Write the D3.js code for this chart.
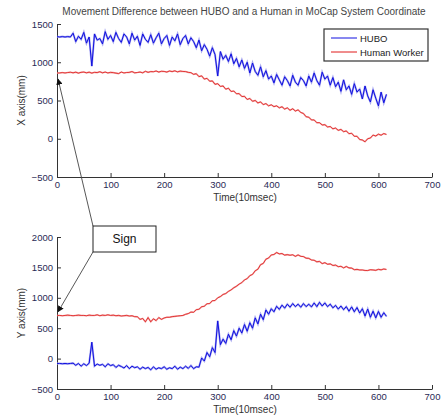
<!DOCTYPE html>
<html>
<head>
<meta charset="utf-8">
<script src="https://cdn.jsdelivr.net/npm/d3@7"></script>
<style>
  body { margin: 0; background: #fff; }
  text { font-family: "Liberation Sans", Arial, sans-serif; }
</style>
</head>
<body>
<div id="chart"></div>
<script>
// sample times (10msec units)
const time = [0,5,10,15,20,25,30,35,40,45,50,55,60,65,70,75,80,85,90,95,
  100,105,110,115,120,125,130,135,140,145,150,155,160,165,170,175,180,185,190,195,
  200,205,210,215,220,225,230,235,240,245,250,255,260,265,270,275,280,285,290,295,
  300,305,310,315,320,325,330,335,340,345,350,355,360,365,370,375,380,385,390,395,
  400,405,410,415,420,425,430,435,440,445,450,455,460,465,470,475,480,485,490,495,
  500,505,510,515,520,525,530,535,540,545,550,555,560,565,570,575,580,585,590,595,
  600,605,610,615];

// X axis (mm)
const huboX = [1335,1330,1335,1330,1335,1330,1380,1270,1340,1300,
  1390,1250,1330,950,1370,1290,1310,1240,1400,1300,
  1350,1270,1390,1310,1260,1370,1330,1240,1380,1290,
  1340,1220,1370,1300,1260,1360,1250,1320,1380,1240,
  1310,1350,1220,1330,1280,1370,1230,1310,1350,1240,
  1320,1270,1190,1290,1150,1230,1170,1080,1190,1100,
  820,1140,1040,1090,1010,1110,980,1050,940,1030,
  920,1000,860,990,880,830,940,810,890,780,
  820,730,840,770,700,810,760,690,830,740,
  700,800,760,690,820,740,860,760,700,870,
  780,820,700,800,680,740,620,770,640,690,
  580,720,610,650,520,690,560,480,640,530,
  430,610,470,580];
const humanX = [860,860,865,860,865,870,862,870,858,868,
  872,862,870,858,868,865,876,862,872,860,
  868,864,858,852,872,860,866,868,878,862,
  866,872,862,882,868,878,876,886,872,882,
  880,872,886,878,888,874,884,880,878,868,
  864,842,850,812,822,780,790,752,756,712,
  720,684,690,648,660,618,624,588,590,552,
  554,514,526,490,500,468,482,446,460,430,
  444,420,430,404,418,388,404,372,392,362,
  378,344,330,288,282,246,246,210,210,180,
  184,154,160,130,140,110,122,92,102,66,
  72,32,32,-10,-16,-40,0,10,48,36,
  60,46,68,56];

// Y axis (mm)
const huboY = [-80,-80,-85,-80,-85,-80,-75,-110,-80,-125,
  -85,-115,-75,270,-125,-90,-110,-95,-135,-85,
  -115,-100,-145,-110,-130,-155,-115,-165,-125,-150,
  -135,-175,-140,-165,-145,-185,-135,-175,-150,-165,
  -135,-175,-150,-165,-125,-175,-140,-165,-125,-160,
  -115,-165,-135,-140,10,-40,100,30,180,100,
  620,230,320,250,400,310,460,370,500,420,
  560,450,590,500,670,570,730,640,800,730,
  820,770,860,810,880,830,895,845,905,855,
  895,845,905,855,895,850,915,855,925,865,
  915,855,895,835,875,815,865,805,855,780,
  850,770,840,750,820,700,815,680,780,670,
  775,680,755,695];
const humanY = [710,710,705,710,715,710,705,710,715,710,
  710,705,715,710,710,720,705,715,710,720,
  710,715,705,710,700,705,710,700,705,690,
  688,645,660,605,675,605,655,625,675,645,
  668,680,680,690,695,700,705,710,728,740,
  765,762,805,812,852,862,902,905,952,955,
  1000,1020,1055,1070,1105,1130,1165,1190,1225,1250,
  1295,1315,1365,1385,1445,1470,1545,1565,1635,1655,
  1705,1712,1745,1722,1728,1702,1710,1700,1708,1682,
  1705,1682,1678,1652,1648,1622,1618,1592,1598,1562,
  1578,1552,1558,1532,1538,1512,1518,1492,1515,1492,
  1488,1462,1468,1458,1458,1450,1448,1462,1458,1452,
  1468,1460,1474,1466];

const xTicks = [0,100,200,300,400,500,600,700];
const topTicks = [-500,0,500,1000,1500];
const botTicks = [-500,0,500,1000,1500,2000];
const seriesNames = ["HUBO", "Human Worker"];

const blue = "#1010e0", red = "#e01a1a", tickCol = "#2a2a55";

const svg = d3.select("#chart").append("svg")
  .attr("width", 441).attr("height", 417);

const x = d3.scaleLinear().domain([0, 700]).range([57, 432]);
const yTop = d3.scaleLinear().domain([-500, 1500]).range([177, 24]);
const yBot = d3.scaleLinear().domain([-500, 2000]).range([389, 237]);

function panel(y, ticks, hubo, human, ylab) {
  const g = svg.append("g");
  g.append("g")
    .attr("transform", `translate(0,${y.range()[0]})`)
    .call(d3.axisBottom(x).tickValues(xTicks).tickFormat(d3.format("d"))
      .tickSizeInner(-4).tickSizeOuter(0).tickPadding(4));
  g.append("g")
    .attr("transform", `translate(${x.range()[0]},0)`)
    .call(d3.axisLeft(y).tickValues(ticks).tickFormat(d3.format("d"))
      .tickSizeInner(-4).tickSizeOuter(0).tickPadding(4));
  g.selectAll(".domain").attr("stroke", "#333");
  g.selectAll(".tick line").attr("stroke", "#333");
  g.selectAll(".tick text").attr("fill", tickCol)
    .style("font-family", "Liberation Sans, Arial, sans-serif").style("font-size", "9.5px");

  const line = d3.line().x((d, i) => x(time[i])).y(d => y(d));
  g.append("path").datum(human).attr("d", line)
    .attr("fill", "none").attr("stroke", "#f0a8a8").attr("stroke-width", 1.6);
  g.append("path").datum(human).attr("d", line)
    .attr("fill", "none").attr("stroke", red).attr("stroke-width", 0.8);
  g.append("path").datum(hubo).attr("d", line)
    .attr("fill", "none").attr("stroke", "#a8a8f0").attr("stroke-width", 2);
  g.append("path").datum(hubo).attr("d", line)
    .attr("fill", "none").attr("stroke", blue).attr("stroke-width", 1);

  g.append("text").attr("x", 245).attr("y", y.range()[0] + 24)
    .attr("text-anchor", "middle").attr("font-size", "10px").attr("fill", "#333")
    .text("Time(10msec)");
  const cy = (y.range()[0] + y.range()[1]) / 2;
  g.append("text").attr("transform", `translate(25,${cy}) rotate(-90)`)
    .attr("text-anchor", "middle").attr("font-size", "10px").attr("fill", "#333")
    .text(ylab);
}

panel(yTop, topTicks, huboX, humanX, "X  axis(mm)");
panel(yBot, botTicks, huboY, humanY, "Y  axis(mm)");

// title
svg.append("text").attr("x", 244).attr("y", 15).attr("text-anchor", "middle")
  .attr("font-size", "10px").attr("fill", "#444")
  .text("Movement Difference between HUBO and a Human in MoCap System Coordinate");

// legend
const lg = svg.append("g").attr("transform", "translate(324,29)");
lg.append("rect").attr("width", 104).attr("height", 32)
  .attr("fill", "#fff").attr("stroke", "#333").attr("stroke-width", 1.2);
[blue, red].forEach((c, i) => {
  lg.append("line").attr("x1", 7).attr("x2", 33).attr("y1", 9 + i * 14).attr("y2", 9 + i * 14)
    .attr("stroke", c).attr("stroke-width", 1);
  lg.append("text").attr("x", 36).attr("y", 12.5 + i * 14).attr("font-size", "9.5px")
    .attr("fill", "#222").text(seriesNames[i]);
});

// "Sign" annotation
svg.append("defs").append("marker").attr("id", "arr")
  .attr("viewBox", "0 0 10 10").attr("refX", 9).attr("refY", 5)
  .attr("markerWidth", 7).attr("markerHeight", 7).attr("orient", "auto")
  .append("path").attr("d", "M0,0L10,5L0,10z").attr("fill", "#111");
const box = {x: 93, y: 226, w: 63, h: 26};
svg.append("line").attr("x1", box.x).attr("y1", box.y)
  .attr("x2", x(2)).attr("y2", yTop(780))
  .attr("stroke", "#444").attr("stroke-width", 0.9).attr("marker-end", "url(#arr)");
svg.append("line").attr("x1", box.x).attr("y1", box.y + box.h)
  .attr("x2", x(2)).attr("y2", yBot(770))
  .attr("stroke", "#444").attr("stroke-width", 0.9).attr("marker-end", "url(#arr)");
svg.append("rect").attr("x", box.x).attr("y", box.y).attr("width", box.w).attr("height", box.h)
  .attr("fill", "#fff").attr("stroke", "#222").attr("stroke-width", 1);
svg.append("text").attr("x", box.x + box.w / 2).attr("y", box.y + 17)
  .attr("text-anchor", "middle").attr("font-size", "12px").attr("fill", "#111").text("Sign");
</script>
</body>
</html>
